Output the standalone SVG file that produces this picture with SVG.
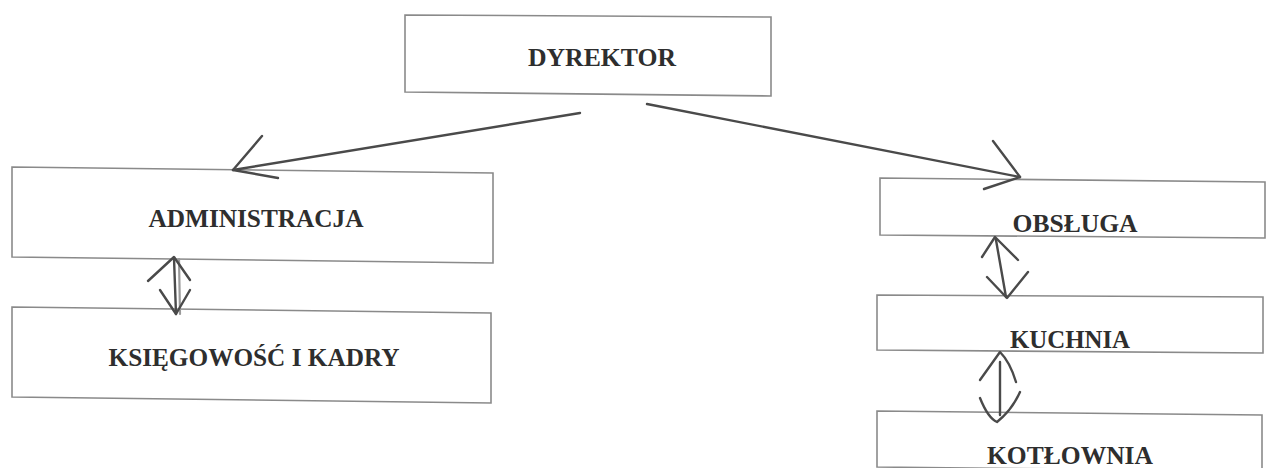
<svg xmlns="http://www.w3.org/2000/svg" width="1273" height="468" viewBox="0 0 1273 468">
<style>
.box{fill:#fff;stroke:#8a8a8a;stroke-width:1.6}
.lbl{font-family:"Liberation Serif","Times New Roman",serif;font-weight:bold;font-size:25.5px;fill:#2e2e2e;text-anchor:middle}
.ln{fill:none;stroke:#4a4a4a;stroke-width:2.4;stroke-linecap:round;stroke-linejoin:round}
.ln2{fill:none;stroke:#9a9a9a;stroke-width:2.2;stroke-linecap:round}
</style>
<rect width="1273" height="468" fill="#fff"/>
<g id="n-dyrektor">
  <polygon class="box" points="405,15 771,17 771,96 405,92"/>
  <text class="lbl" x="602" y="66" textLength="148" lengthAdjust="spacingAndGlyphs">DYREKTOR</text>
</g>
<g id="n-administracja">
  <polygon class="box" points="12,167 493,173 493,263 12,257"/>
  <text class="lbl" x="256" y="227" textLength="215" lengthAdjust="spacingAndGlyphs">ADMINISTRACJA</text>
</g>
<g id="n-ksiegowosc">
  <polygon class="box" points="12,307 491,313 491,403 12,397"/>
  <text class="lbl" x="254" y="366" textLength="291" lengthAdjust="spacingAndGlyphs">KSIĘGOWOŚĆ I KADRY</text>
</g>
<g id="n-obsluga">
  <polygon class="box" points="880,178 1265,182 1265,238 880,235"/>
  <text class="lbl" x="1075" y="232" textLength="125" lengthAdjust="spacingAndGlyphs">OBSŁUGA</text>
</g>
<g id="n-kuchnia">
  <polygon class="box" points="877,295 1263,297 1263,353 877,350"/>
  <text class="lbl" x="1070" y="348" textLength="120" lengthAdjust="spacingAndGlyphs">KUCHNIA</text>
</g>
<g id="n-kotlownia">
  <polygon class="box" points="877,411 1262,415 1262,471 877,467"/>
  <text class="lbl" x="1070" y="464" textLength="166" lengthAdjust="spacingAndGlyphs">KOTŁOWNIA</text>
</g>
<g id="connectors">
  <g id="dyr-adm">
    <path class="ln" d="M580,113 L233,170"/>
    <path class="ln" d="M262,136 L233,170 L278,178"/>
  </g>
  <g id="dyr-obs">
    <path class="ln" d="M647,104 L1020,177"/>
    <path class="ln" d="M993,141 L1020,177 L984,189"/>
  </g>
  <g id="adm-ksi">
    <path class="ln2" d="M179,259 L180,314"/>
    <path class="ln" d="M174,258 L176,314"/>
    <path class="ln" d="M148,281 L174,257 L190,280"/>
    <path class="ln" d="M160,290 L176,314 L190,290"/>
  </g>
  <g id="obs-kuc">
    <path class="ln" d="M996,240 L1006,297"/>
    <path class="ln" d="M982,257 L995,237 L1018,260"/>
    <path class="ln" d="M987,277 L1007,298 L1028,272"/>
  </g>
  <g id="kuc-kot">
    <path class="ln" d="M1000,362 L1000,415"/>
    <path class="ln" d="M980,380 L1000,352 Q1010,362 1016,382"/>
    <path class="ln" d="M980,398 Q988,418 997,422 Q1012,410 1020,392"/>
  </g>
</g>
</svg>
